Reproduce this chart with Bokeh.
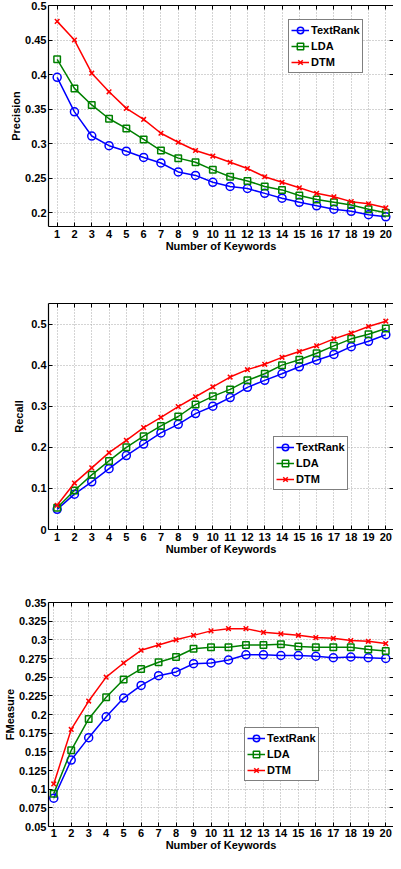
from bokeh.plotting import figure
from bokeh.layouts import column
from bokeh.models import Range1d, LinearAxis, FixedTicker, Legend, LegendItem
from bokeh.embed import file_html
from bokeh.resources import INLINE

keywords = list(range(1, 21))
x_labels = [str(k) for k in keywords]
series_names = ["TextRank", "LDA", "DTM"]

precision_textrank = [0.396, 0.346, 0.311, 0.297, 0.289, 0.280, 0.272, 0.259, 0.254, 0.244,
                      0.238, 0.235, 0.228, 0.221, 0.215, 0.210, 0.205, 0.202, 0.197, 0.194]
precision_lda = [0.422, 0.380, 0.356, 0.336, 0.322, 0.306, 0.290, 0.279, 0.273, 0.262,
                 0.252, 0.246, 0.238, 0.233, 0.225, 0.219, 0.215, 0.211, 0.205, 0.200]
precision_dtm = [0.477, 0.450, 0.402, 0.375, 0.351, 0.335, 0.315, 0.302, 0.290, 0.282,
                 0.273, 0.264, 0.252, 0.244, 0.236, 0.228, 0.223, 0.216, 0.213, 0.207]

recall_textrank = [0.049, 0.086, 0.116, 0.148, 0.180, 0.208, 0.235, 0.256, 0.282, 0.300,
                   0.321, 0.346, 0.363, 0.379, 0.396, 0.412, 0.426, 0.445, 0.458, 0.474]
recall_lda = [0.053, 0.095, 0.133, 0.167, 0.200, 0.227, 0.252, 0.275, 0.304, 0.324,
              0.341, 0.363, 0.379, 0.400, 0.413, 0.429, 0.447, 0.464, 0.475, 0.489]
recall_dtm = [0.059, 0.113, 0.150, 0.187, 0.217, 0.248, 0.273, 0.299, 0.323, 0.347,
              0.371, 0.389, 0.402, 0.419, 0.433, 0.447, 0.464, 0.478, 0.494, 0.507]

fmeasure_textrank = [0.088, 0.139, 0.169, 0.197, 0.222, 0.239, 0.252, 0.257, 0.268, 0.269,
                     0.273, 0.280, 0.280, 0.279, 0.279, 0.278, 0.276, 0.277, 0.276, 0.275]
fmeasure_lda = [0.094, 0.152, 0.194, 0.223, 0.247, 0.261, 0.270, 0.277, 0.288, 0.290,
                0.290, 0.293, 0.293, 0.294, 0.291, 0.290, 0.290, 0.290, 0.287, 0.285]
fmeasure_dtm = [0.107, 0.180, 0.218, 0.250, 0.269, 0.286, 0.293, 0.300, 0.306, 0.312,
                0.315, 0.315, 0.310, 0.308, 0.306, 0.303, 0.302, 0.299, 0.298, 0.295]

precision_ticks = [0.2, 0.25, 0.3, 0.35, 0.4, 0.45, 0.5]
precision_tick_labels = ["0.2", "0.25", "0.3", "0.35", "0.4", "0.45", "0.5"]
recall_ticks = [0, 0.1, 0.2, 0.3, 0.4, 0.5]
recall_tick_labels = ["0", "0.1", "0.2", "0.3", "0.4", "0.5"]
fmeasure_ticks = [0.05, 0.075, 0.1, 0.125, 0.15, 0.175, 0.2, 0.225, 0.25, 0.275, 0.3, 0.325, 0.35]
fmeasure_tick_labels = ["0.05", "0.075", "0.1", "0.125", "0.15", "0.175", "0.2", "0.225",
                        "0.25", "0.275", "0.3", "0.325", "0.35"]

FONT = "Liberation Sans"
COLORS = ["#0000ff", "#008000", "#ff0000"]
MARKERS = ["circle", "square", "x"]
SIZES = [8, 6.5, 6.5]


def style_axis(ax, ticker, overrides=None, hide_labels=False, line=True):
    ax.ticker = ticker
    ax.major_tick_in = 4
    ax.major_tick_out = 0
    ax.minor_tick_in = 0
    ax.minor_tick_out = 0
    ax.major_tick_line_color = "black"
    ax.axis_line_color = "black" if line else None
    ax.axis_line_width = 1.2
    ax.major_label_text_font = FONT
    ax.major_label_text_font_style = "bold"
    ax.major_label_text_color = "black"
    ax.axis_label_text_font = FONT
    ax.axis_label_text_font_style = "bold"
    ax.axis_label_text_font_size = "11px"
    ax.axis_label_text_color = "black"
    if overrides is not None:
        ax.major_label_overrides = overrides
    if hide_labels:
        ax.major_label_text_font_size = "0px"
        ax.major_label_text_color = None
        ax.major_label_text_alpha = 0
        ax.major_label_standoff = 0
    else:
        ax.major_label_text_font_size = "11px"


def make_panel(ylabel, series, y_start, y_end, yticks, ylabels, height, border_top,
               border_bottom, border_left, x_start, legend_xy, ylabel_standoff, x_label_standoff):
    p = figure(width=393, height=height, output_backend="svg", toolbar_location=None,
               x_range=Range1d(x_start, 20.444), y_range=Range1d(y_start, y_end),
               min_border_top=border_top, min_border_bottom=border_bottom,
               min_border_left=border_left, min_border_right=0)
    p.outline_line_color = None
    p.background_fill_color = "white"
    p.border_fill_color = "white"

    xt = FixedTicker(ticks=keywords, minor_ticks=[])
    yt = FixedTicker(ticks=yticks, minor_ticks=[])
    style_axis(p.xaxis[0], xt, dict(zip(keywords, x_labels)))
    style_axis(p.yaxis[0], yt, dict(zip(yticks, ylabels)))
    p.xaxis[0].axis_label = "Number of Keywords"
    p.xaxis[0].major_label_standoff = x_label_standoff
    p.xaxis[0].axis_label_standoff = -1
    p.yaxis[0].axis_label = ylabel
    p.yaxis[0].major_label_standoff = 2
    p.yaxis[0].axis_label_standoff = ylabel_standoff

    top = LinearAxis()
    style_axis(top, FixedTicker(ticks=keywords, minor_ticks=[]), hide_labels=True)
    p.add_layout(top, "above")
    right = LinearAxis()
    style_axis(right, FixedTicker(ticks=yticks, minor_ticks=[]), hide_labels=True, line=False)
    p.add_layout(right, "right")

    for g in (p.xgrid[0], p.ygrid[0]):
        g.grid_line_color = "#a8a8a8"
        g.grid_line_dash = "1 2"
        g.grid_line_width = 1
    p.xgrid[0].ticker = xt
    p.ygrid[0].ticker = yt

    items = []
    for name, vals, c, m, s in zip(series_names, series, COLORS, MARKERS, SIZES):
        r1 = p.line(keywords, vals, line_color=c, line_width=1.5)
        r2 = p.scatter(keywords, vals, marker=m, size=s, line_color=c, fill_color=None,
                       line_width=1.5)
        items.append(LegendItem(label=name, renderers=[r1, r2]))

    leg = Legend(items=items, location=legend_xy)
    leg.label_text_font = FONT
    leg.label_text_font_style = "bold"
    leg.label_text_font_size = "11px"
    leg.label_text_color = "black"
    leg.glyph_width = 18
    leg.glyph_height = 16
    leg.label_height = 16
    leg.label_standoff = 2
    leg.padding = 2
    leg.spacing = 0
    leg.margin = 0
    leg.border_line_color = "black"
    leg.border_line_width = 1
    leg.background_fill_color = "white"
    leg.background_fill_alpha = 1
    p.add_layout(leg, "center")
    return p


p1 = make_panel("Precision", [precision_textrank, precision_lda, precision_dtm],
                0.18, 0.5, precision_ticks, precision_tick_labels,
                height=256, border_top=5, border_bottom=30, border_left=36, x_start=0.5,
                legend_xy=(240, 153), ylabel_standoff=0, x_label_standoff=3)
p2 = make_panel("Recall", [recall_textrank, recall_lda, recall_dtm],
                0, 0.55, recall_ticks, recall_tick_labels,
                height=303, border_top=47, border_bottom=30, border_left=36, x_start=0.5,
                legend_xy=(225, 39), ylabel_standoff=3, x_label_standoff=3)
p3 = make_panel("FMeasure", [fmeasure_textrank, fmeasure_lda, fmeasure_dtm],
                0.05, 0.35, fmeasure_ticks, fmeasure_tick_labels,
                height=294, border_top=43, border_bottom=27, border_left=42, x_start=0.7,
                legend_xy=(196, 45), ylabel_standoff=0, x_label_standoff=2)

layout = column(p1, p2, p3, spacing=0)
open("out.html", "w").write(file_html(layout, INLINE))
